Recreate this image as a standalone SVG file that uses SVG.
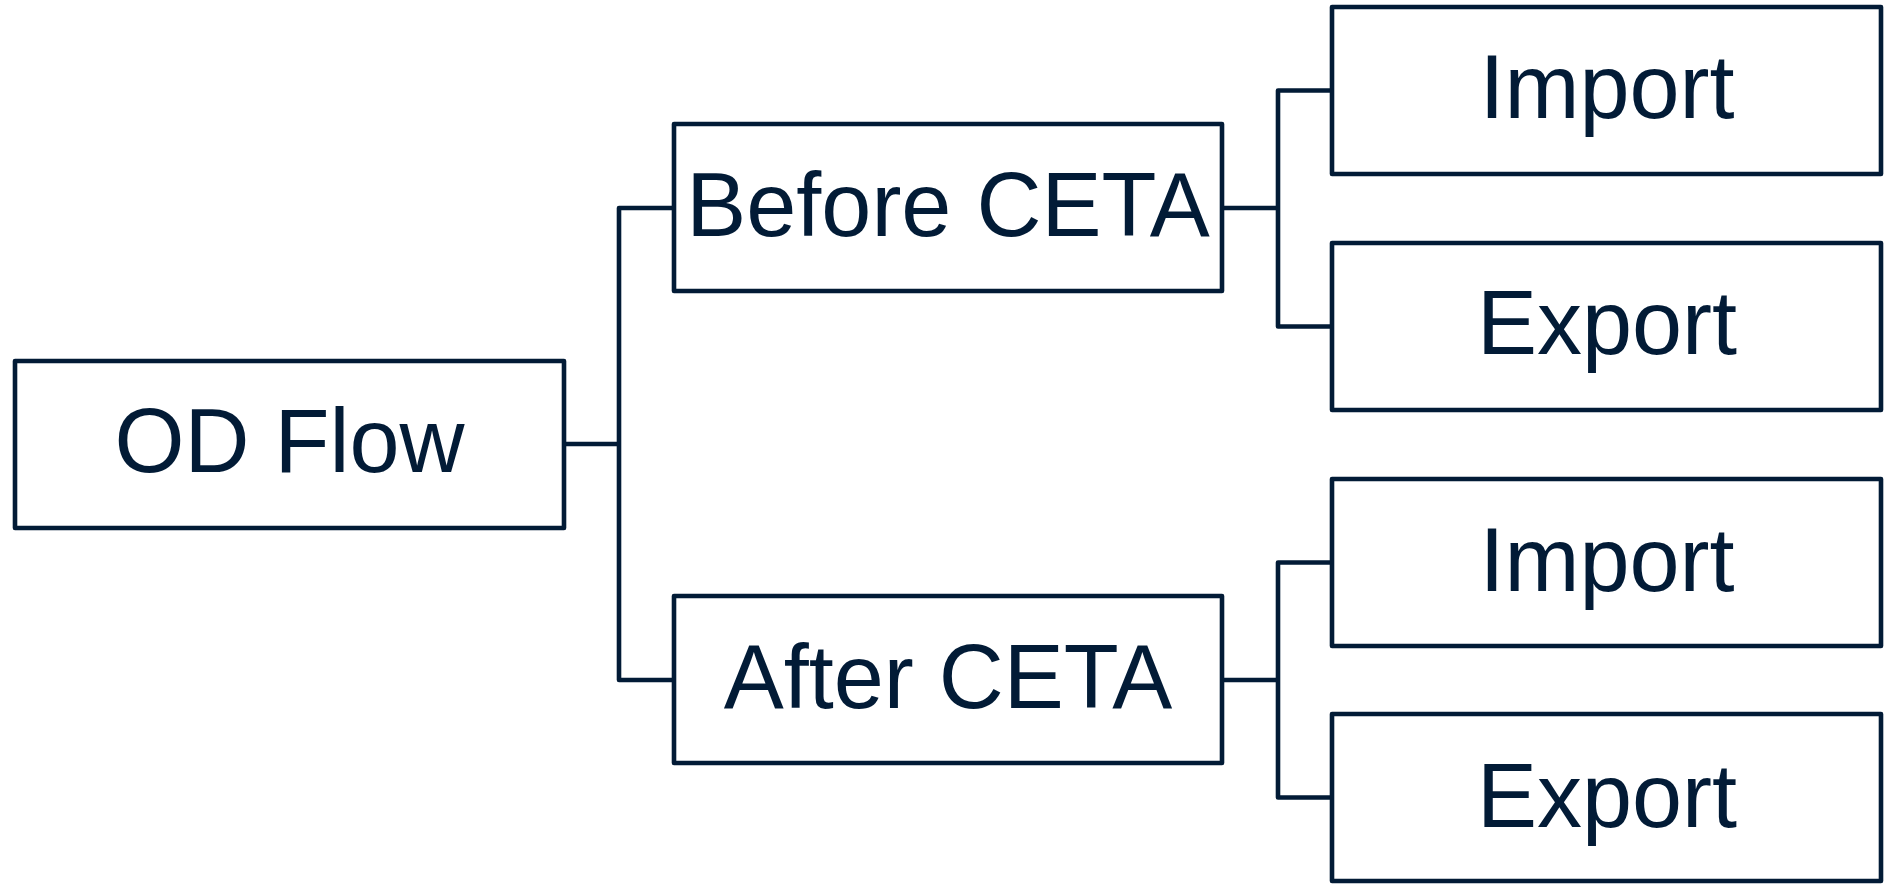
<svg xmlns="http://www.w3.org/2000/svg" width="1884" height="884" viewBox="0 0 1884 884">
  <style>
    .box { fill: #ffffff; stroke: #021b36; stroke-width: 4.6; stroke-linejoin: round; }
    .label { font-family: "Liberation Sans", Arial, sans-serif; font-size: 90px; fill: #021b36; text-anchor: middle; }
    .wire { fill: none; stroke: #021b36; stroke-width: 4.6; stroke-linejoin: round; stroke-linecap: butt; }
  </style>
  <rect width="1884" height="884" fill="#ffffff"/>

  <!-- tree connectors -->
  <g id="connectors">
    <path class="wire" d="M564,444 H619"/>
    <path class="wire" d="M674,208 H619 V680 H674"/>
    <path class="wire" d="M1222,208 H1278"/>
    <path class="wire" d="M1332,90.5 H1278 V326.5 H1332"/>
    <path class="wire" d="M1222,680 H1278"/>
    <path class="wire" d="M1332,562.5 H1278 V797.5 H1332"/>
  </g>

  <g id="od-flow">
    <rect class="box" x="15" y="361" width="549" height="167"/>
    <text class="label" x="289.5" y="471.5">OD Flow</text>
  </g>

  <g id="before-ceta">
    <rect class="box" x="674" y="124" width="548" height="167"/>
    <text class="label" x="948" y="235.5">Before CETA</text>
  </g>

  <g id="after-ceta">
    <rect class="box" x="674" y="596" width="548" height="167"/>
    <text class="label" x="948" y="707.5">After CETA</text>
  </g>

  <g id="before-import">
    <rect class="box" x="1332" y="7" width="549" height="167"/>
    <text class="label" x="1607" y="117.5">Import</text>
  </g>

  <g id="before-export">
    <rect class="box" x="1332" y="243" width="549" height="167"/>
    <text class="label" x="1607" y="353.5">Export</text>
  </g>

  <g id="after-import">
    <rect class="box" x="1332" y="479" width="549" height="167"/>
    <text class="label" x="1607" y="590.5">Import</text>
  </g>

  <g id="after-export">
    <rect class="box" x="1332" y="714" width="549" height="167"/>
    <text class="label" x="1607" y="826.5">Export</text>
  </g>
</svg>
